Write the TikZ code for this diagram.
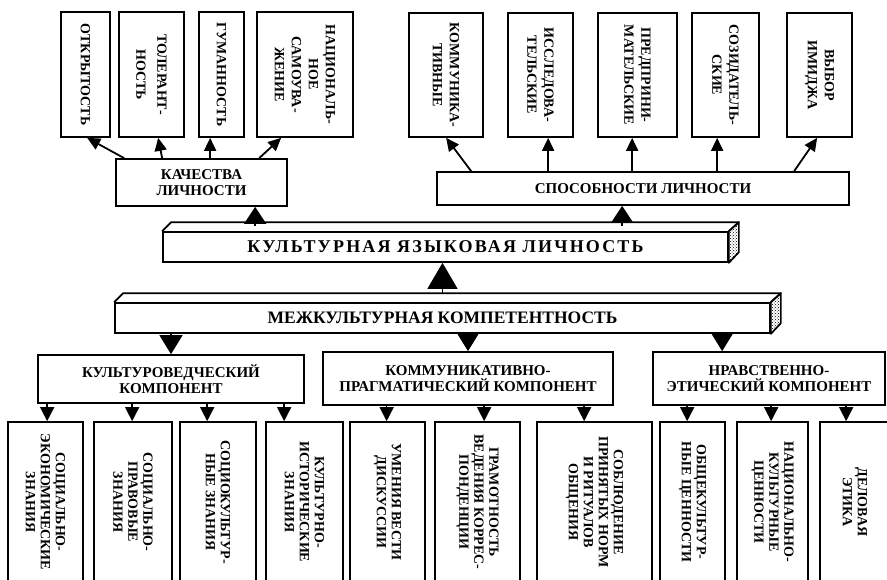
\documentclass[tikz,border=0pt]{standalone}
\usepackage{fontspec}
\setmainfont{Liberation Serif}
\usetikzlibrary{arrows.meta,patterns}

\begin{document}
\begin{tikzpicture}[x=1pt,y=-1pt,
	blok/.style={draw,line width=1.7pt,inner sep=0pt,align=center,font=\bfseries\fontsize{15}{16}\selectfont},
	vert/.style={rotate=-90,align=center,inner sep=0pt,font=\bfseries\fontsize{14}{17}\selectfont},
	vertn/.style={vert,font=\bfseries\fontsize{14}{15}\selectfont},
	strel/.style={line width=1.8pt,-{Triangle[length=13pt,width=12pt]}},
	mtri/.style={line width=1.5pt,-{Triangle[length=14pt,width=14pt]}},
	dtri/.style={line width=1.5pt,-{Triangle[length=19pt,width=23pt]}},
	utri/.style={line width=1.5pt,-{Triangle[length=17pt,width=22pt]}}]
	\useasboundingbox (0,0) rectangle (887,579);
	\clip (0,0) rectangle (887,579);
	% verhnij rjad
	\node[blok,minimum width=49pt,minimum height=125pt,label={[vert]center:ОТКРЫТОСТЬ}] (otkr) at (85.5,74.5) {};
	\node[blok,minimum width=65pt,minimum height=125pt,label={[vert]center:{ТОЛЕРАНТ-\\[4pt]НОСТЬ}}] (toler) at (151.5,74.5) {};
	\node[blok,minimum width=45pt,minimum height=125pt,label={[vert]center:ГУМАННОСТЬ}] (guman) at (221.5,74.5) {};
	\node[blok,minimum width=96pt,minimum height=125pt,label={[vert]center:{НАЦИОНАЛЬ-\\НОЕ\\САМОУВА-\\ЖЕНИЕ}}] (nacs) at (305,74.5) {};
	\node[blok,minimum width=74pt,minimum height=124pt,label={[vert]center:{КОММУНИКА-\\ТИВНЫЕ}}] (kommun) at (446,75) {};
	\node[blok,minimum width=65pt,minimum height=124pt,label={[vert]center:{ИССЛЕДОВА-\\ТЕЛЬСКИЕ}}] (issled) at (540.5,75) {};
	\node[blok,minimum width=79pt,minimum height=124pt,label={[vert]center:{ПРЕДПРИНИ-\\МАТЕЛЬСКИЕ}}] (predpr) at (637.5,75) {};
	\node[blok,minimum width=67pt,minimum height=124pt,label={[vert]center:{СОЗИДАТЕЛЬ-\\СКИЕ}}] (sozid) at (725.5,75) {};
	\node[blok,minimum width=65pt,minimum height=124pt,label={[vert]center:{ВЫБОР\\ИМИДЖА}}] (imidzh) at (819.5,75) {};
	\node[blok,minimum width=171pt,minimum height=47pt] (kachestva) at (201.5,182.5) {КАЧЕСТВА\\ЛИЧНОСТИ};
	\node[blok,minimum width=412pt,minimum height=33pt] (sposobn) at (643,188.5) {СПОСОБНОСТИ ЛИЧНОСТИ};
	\foreach \n/\a/\b in {otkr/9/27,toler/47/40,guman/95/12,nacs/144/25}
		\draw[strel] ([xshift=\a pt]kachestva.north west) -- ([xshift=\b pt]\n.south west);
	\foreach \n/\a/\b in {kommun/35/38,issled/112/41,predpr/196/35,sozid/281/26,imidzh/358/31}
		\draw[strel] ([xshift=\a pt]sposobn.north west) -- ([xshift=\b pt]\n.south west);
	% brusy
	\node[blok,minimum width=565pt,minimum height=30pt,font=\bfseries\fontsize{18}{18}\selectfont\addfontfeature{LetterSpace=12}] (kulyaz) at (445.5,247) {КУЛЬТУРНАЯ ЯЗЫКОВАЯ ЛИЧНОСТЬ};
	\node[blok,minimum width=655pt,minimum height=30pt,font=\bfseries\fontsize{17.5}{18}\selectfont] (mezhk) at (442.5,318) {МЕЖКУЛЬТУРНАЯ КОМПЕТЕНТНОСТЬ};
	\foreach \b in {kulyaz,mezhk}{
		\draw[line width=1.7pt,line join=round] (\b.north west) -- ++(9,-9) -- ([xshift=10pt,yshift=9pt]\b.north east) -- (\b.north east);
		\draw[line width=1.7pt,line join=round,pattern=crosshatch dots] (\b.north east) -- ++(10,-9) -- ++(0,30) -- (\b.south east) -- cycle;
	}
	\draw[utri] ([xshift=140pt,yshift=-19pt]kachestva.south west) -- ([xshift=140pt]kachestva.south west);
	\draw[utri] ([xshift=186pt,yshift=-20pt]sposobn.south west) -- ([xshift=186pt]sposobn.south west);
	\draw[line width=1.5pt,-{Triangle[length=26pt,width=30pt]}] ([yshift=8pt]mezhk.north) -- (kulyaz.south -| mezhk.north);
	% komponenty
	\node[blok,minimum width=266pt,minimum height=48pt] (kultur) at (171,379) {КУЛЬТУРОВЕДЧЕСКИЙ\\КОМПОНЕНТ};
	\node[blok,minimum width=290pt,minimum height=53pt] (kommprag) at (468,378.5) {КОММУНИКАТИВНО-\\ПРАГМАТИЧЕСКИЙ КОМПОНЕНТ};
	\node[blok,minimum width=232pt,minimum height=53pt] (nravst) at (769,378.5) {НРАВСТВЕННО-\\ЭТИЧЕСКИЙ КОМПОНЕНТ};
	\coordinate (nr) at ([xshift=70pt]nravst.north west);
	\draw[dtri] (mezhk.south -| kultur.north) -- (kultur.north);
	\draw[dtri] (mezhk.south -| kommprag.north) -- (kommprag.north);
	\draw[dtri] (mezhk.south -| nr) -- (nr);
	% nizhnij rjad
	\node[blok,minimum width=75pt,minimum height=160pt,label={[vertn]center:{СОЦИАЛЬНО-\\ЭКОНОМИЧЕСКИЕ\\ЗНАНИЯ}}] (sockon) at (45.5,502) {};
	\node[blok,minimum width=78pt,minimum height=160pt,label={[vertn]center:{СОЦИАЛЬНО-\\ПРАВОВЫЕ\\ЗНАНИЯ}}] (socprav) at (133,502) {};
	\node[blok,minimum width=76pt,minimum height=160pt,label={[vertn]center:{СОЦИОКУЛЬТУР-\\НЫЕ ЗНАНИЯ}}] (sockult) at (218,502) {};
	\node[blok,minimum width=77pt,minimum height=160pt,label={[vertn]center:{КУЛЬТУРНО-\\ИСТОРИЧЕСКИЕ\\ЗНАНИЯ}}] (kultist) at (304.5,502) {};
	\node[blok,minimum width=75pt,minimum height=160pt,label={[vertn]center:{УМЕНИЯ ВЕСТИ\\ДИСКУССИИ}}] (diskus) at (387.5,502) {};
	\node[blok,minimum width=85pt,minimum height=160pt,label={[vertn]center:{ГРАМОТНОСТЬ\\ВЕДЕНИЯ КОРРЕС-\\ПОНДЕНЦИИ}}] (korresp) at (477.5,502) {};
	\node[blok,minimum width=115pt,minimum height=160pt,label={[vertn]center:{СОБЛЮДЕНИЕ\\ПРИНЯТЫХ НОРМ\\И РИТУАЛОВ\\ОБЩЕНИЯ}}] (normy) at (594.5,502) {};
	\node[blok,minimum width=65pt,minimum height=160pt,label={[vertn]center:{ОБЩЕКУЛЬТУР-\\НЫЕ ЦЕННОСТИ}}] (obshcen) at (692.5,502) {};
	\node[blok,minimum width=71pt,minimum height=160pt,label={[vertn]center:{НАЦИОНАЛЬНО-\\КУЛЬТУРНЫЕ\\ЦЕННОСТИ}}] (naccen) at (772.5,502) {};
	\node[blok,minimum width=70pt,minimum height=160pt,label={[vertn]center:{ДЕЛОВАЯ\\ЭТИКА}}] (etika) at (855,502) {};
	\foreach \n/\d [count=\i] in {sockon/40,socprav/39,sockult/28,kultist/19}{
		\coordinate (k\i) at ([xshift=\d pt]\n.north west);
		\draw[mtri] (kultur.south -| k\i) -- (k\i);
	}
	\foreach \n/\d [count=\i] in {diskus/37.5,korresp/50,normy/48}{
		\coordinate (p\i) at ([xshift=\d pt]\n.north west);
		\draw[mtri] (kommprag.south -| p\i) -- (p\i);
	}
	\foreach \n/\d [count=\i] in {obshcen/28,naccen/35,etika/27}{
		\coordinate (e\i) at ([xshift=\d pt]\n.north west);
		\draw[mtri] (nravst.south -| e\i) -- (e\i);
	}
\end{tikzpicture}
\end{document}
